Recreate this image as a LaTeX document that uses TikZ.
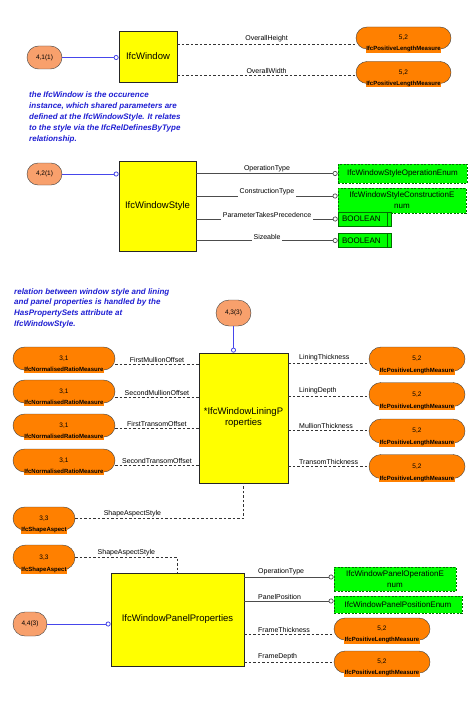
\documentclass[tikz,border=0pt]{standalone}
\usepackage{fontspec}
\setmainfont{Liberation Sans}
\usetikzlibrary{arrows.meta,shapes.misc}

\definecolor{ifcyellow}{RGB}{255,255,0}
\definecolor{ifcorange}{RGB}{255,128,0}
\definecolor{ifcsalmon}{RGB}{248,160,108}
\definecolor{ifcgreen}{RGB}{0,255,0}
\definecolor{ifcdkgreen}{RGB}{0,110,0}
\definecolor{ifcblue}{RGB}{70,70,235}
\definecolor{ifcnote}{RGB}{30,30,210}

\begin{document}
\begin{tikzpicture}[
  x=1pt, y=-1pt,
  ent/.style={draw=black!85, line width=0.7pt, fill=ifcyellow, inner sep=1pt, align=center,
    font=\fontsize{9.5}{11}\selectfont},
  ref/.style={draw=black!75, fill=ifcsalmon, rounded rectangle, minimum width=35pt,
    minimum height=23pt, inner sep=0pt, font=\fontsize{6.5}{7}\selectfont},
  meas/.style={draw=black!75, fill=ifcorange, rounded rectangle, minimum height=22pt,
    inner sep=0pt, font=\fontsize{6.5}{7}\selectfont},
  mlab/.style={fill=ifcorange, inner sep=0.6pt, label distance=-3.5pt,
    font=\bfseries\fontsize{6}{6.5}\selectfont},
  enum/.style={draw=ifcdkgreen, fill=ifcgreen, dash pattern=on 2pt off 1.5pt, line width=0.8pt,
    inner sep=1pt, align=center, font=\fontsize{8}{11}\selectfont},
  bool/.style={draw=ifcdkgreen, fill=ifcgreen, line width=0.6pt, minimum width=53pt,
    minimum height=14pt, inner sep=1pt, text width=45pt, align=left,
    font=\fontsize{8}{9}\selectfont,
    path picture={\draw[ifcdkgreen, line width=0.6pt]
      ([xshift=-4pt]path picture bounding box.north east) --
      ([xshift=-4pt]path picture bounding box.south east);}},
  rel/.style={ifcblue, line width=0.8pt, -{Circle[length=5pt, open, fill=white]}},
  attr/.style={black!70, line width=0.7pt, -{Circle[length=5pt, open, fill=white]}},
  opt/.style={black!80, line width=0.7pt, dash pattern=on 2.5pt off 2pt},
  lab/.style={text=black, font=\fontsize{7}{8}\selectfont, inner sep=1.5pt},
  brk/.style={fill=white, yshift=4pt, inner ysep=2.5pt},
  note/.style={ifcnote, anchor=north west, inner sep=0pt, align=left,
    font=\bfseries\itshape\fontsize{8}{11}\selectfont}
]
\useasboundingbox (0,0) rectangle (474,701);

% --- IfcWindow ---
\node[ref] (w41) at (44.5,57.5) {4,1(1)};
\node[ent, minimum width=58pt, minimum height=51pt] (win) at (148,56.5) {IfcWindow};
\node[meas, minimum width=95pt, label={[mlab]below:IfcPositiveLengthMeasure}] (oh) at (403.5,38) {5,2};
\node[meas, minimum width=95pt, label={[mlab]below:IfcPositiveLengthMeasure}] (ow) at (403.5,72.5) {5,2};

\node[note] (n1) at (29,92) {the IfcWindow is the occurence\\
  instance, which shared parameters are\\
  defined at the IfcWindowStyle. It relates\\
  to the style via the IfcRelDefinesByType\\
  relationship.};

% --- IfcWindowStyle ---
\node[ref, minimum height=22pt] (w42) at (44.5,174) {4,2(1)};
\node[ent, minimum width=77pt, minimum height=90pt] (sty) at (157.5,206) {IfcWindowStyle};
\node[enum, minimum width=129pt, minimum height=19pt] (gop) at (402.5,173.5) {IfcWindowStyleOperationEnum};
\node[enum, minimum width=128pt, minimum height=25pt] (gct) at (402,200.5) {IfcWindowStyleConstructionE\\num};
\node[bool] (b1) at (364.5,219) {BOOLEAN};
\node[bool] (b2) at (364.5,240.5) {BOOLEAN};

\node[note, font=\bfseries\itshape\fontsize{8}{10.7}\selectfont] (n2) at (14,288) {relation between window style and lining\\
  and panel properties is handled by the\\
  HasPropertySets attribute at\\
  IfcWindowStyle.};

% --- IfcWindowLiningProperties ---
\node[ref, minimum height=26pt] (w43) at (233.5,313) {4,3(3)};
\node[ent, minimum width=89pt, minimum height=130pt] (lin) at (243.5,418) {*IfcWindowLiningP\\roperties};

\node[meas, minimum width=102pt, minimum height=23pt, label={[mlab]below:IfcNormalisedRatioMeasure}] (m1) at (64,358.5) {3,1};
\node[meas, minimum width=102pt, minimum height=23pt, label={[mlab]below:IfcNormalisedRatioMeasure}] (m2) at (64,391.5) {3,1};
\node[meas, minimum width=102pt, minimum height=23pt, label={[mlab]below:IfcNormalisedRatioMeasure}] (m3) at (64,425.5) {3,1};
\node[meas, minimum width=102pt, minimum height=23pt, label={[mlab]below:IfcNormalisedRatioMeasure}] (m4) at (64,460.5) {3,1};

\node[meas, minimum width=96pt, minimum height=24pt, label={[mlab]below:IfcPositiveLengthMeasure}] (r1) at (417,359) {5,2};
\node[meas, minimum width=96pt, minimum height=24pt, label={[mlab]below:IfcPositiveLengthMeasure}] (r2) at (417,394.5) {5,2};
\node[meas, minimum width=96pt, minimum height=24pt, label={[mlab]below:IfcPositiveLengthMeasure}] (r3) at (417,431) {5,2};
\node[meas, minimum width=96pt, minimum height=24pt, label={[mlab]below:IfcPositiveLengthMeasure}] (r4) at (417,466.5) {5,2};

\node[meas, minimum width=62pt, minimum height=23pt, label={[mlab]below:IfcShapeAspect}] (sa1) at (44,518.5) {3,3};

% --- IfcWindowPanelProperties ---
\node[meas, minimum width=62pt, minimum height=25pt, label={[mlab]below:IfcShapeAspect}] (sa2) at (44,557.5) {3,3};
\node[ent, minimum width=133pt, minimum height=93pt] (pan) at (177.5,619.5) {IfcWindowPanelProperties};
\node[ref, minimum width=34pt, minimum height=24pt] (w44) at (30,624) {4,4(3)};
\node[enum, minimum width=122pt, minimum height=24pt] (pop) at (395,579) {IfcWindowPanelOperationE\\num};
\node[enum, minimum width=128pt, minimum height=17pt] (ppo) at (398,604.5) {IfcWindowPanelPositionEnum};
\node[meas, minimum width=96pt, label={[mlab]below:IfcPositiveLengthMeasure}] (fth) at (382,629) {5,2};
\node[meas, minimum width=96pt, label={[mlab]below:IfcPositiveLengthMeasure}] (fde) at (382,662) {5,2};

% --- Relations (blue) ---
\draw[rel] (w41.east) -- (win.west |- w41.east);
\draw[rel] (w42.east) -- (sty.west |- w42.east);
\draw[rel] (w43.south) -- (w43.south |- lin.north);
\draw[rel] (w44.east) -- (pan.west |- w44.east);

% --- Attributes of IfcWindow ---
\draw[opt] (win.east |- 0,44) -- node[lab, above] {OverallHeight} (oh.west |- 0,44);
\draw[opt] (win.east |- 0,75) -- node[lab, above] {OverallWidth} (ow.west |- 0,75);

% --- Attributes of IfcWindowStyle ---
\draw[attr] (sty.east |- gop.west) -- node[lab, above] {OperationType} (gop.west);
\draw[attr] (sty.east |- 0,196) -- node[lab, brk] {ConstructionType} (gct.west |- 0,196);
\draw[attr] (sty.east |- b1.west) -- node[lab, brk] {ParameterTakesPrecedence} (b1.west);
\draw[attr] (sty.east |- b2.west) -- node[lab, brk] {Sizeable} (b2.west);

% --- Attributes of IfcWindowLiningProperties ---
\draw[opt] (m1.east |- 0,364) -- node[lab, above] {FirstMullionOffset} (lin.west |- 0,364);
\draw[opt] (m2.east |- 0,397) -- node[lab, above] {SecondMullionOffset} (lin.west |- 0,397);
\draw[opt] (m3.east |- 0,428) -- node[lab, above] {FirstTransomOffset} (lin.west |- 0,428);
\draw[opt] (m4.east |- 0,465) -- node[lab, above] {SecondTransomOffset} (lin.west |- 0,465);

\draw[opt] (lin.east |- 0,363) -- node[lab, anchor=south west, pos=0, xshift=9pt] {LiningThickness} (r1.west |- 0,363);
\draw[opt] (lin.east |- 0,396) -- node[lab, anchor=south west, pos=0, xshift=9pt] {LiningDepth} (r2.west |- 0,396);
\draw[opt] (lin.east |- 0,430) -- node[lab, anchor=south west, pos=0, xshift=9pt] {MullionThickness} (r3.west |- 0,430);
\draw[opt] (lin.east |- 0,466) -- node[lab, anchor=south west, pos=0, xshift=9pt] {TransomThickness} (r4.west |- 0,466);

\draw[opt] (sa1.east) -| node[lab, above, pos=0.17] {ShapeAspectStyle} (lin.south);

% --- Attributes of IfcWindowPanelProperties ---
\draw[opt] (sa2.east) -| node[lab, above, pos=0.25] {ShapeAspectStyle} (pan.north);
\draw[attr] (pan.east |- 0,577) -- node[lab, anchor=south west, pos=0, xshift=12pt] {OperationType} (pop.west |- 0,577);
\draw[attr] (pan.east |- 0,601) -- node[lab, anchor=south west, pos=0, xshift=12pt] {PanelPosition} (ppo.west |- 0,601);
\draw[opt] (pan.east |- 0,634) -- node[lab, anchor=south west, pos=0, xshift=12pt] {FrameThickness} (fth.west |- 0,634);
\draw[opt] (pan.east |- 0,662) -- node[lab, anchor=south west, pos=0, xshift=12pt] {FrameDepth} (fde.west |- 0,662);

\end{tikzpicture}
\end{document}
